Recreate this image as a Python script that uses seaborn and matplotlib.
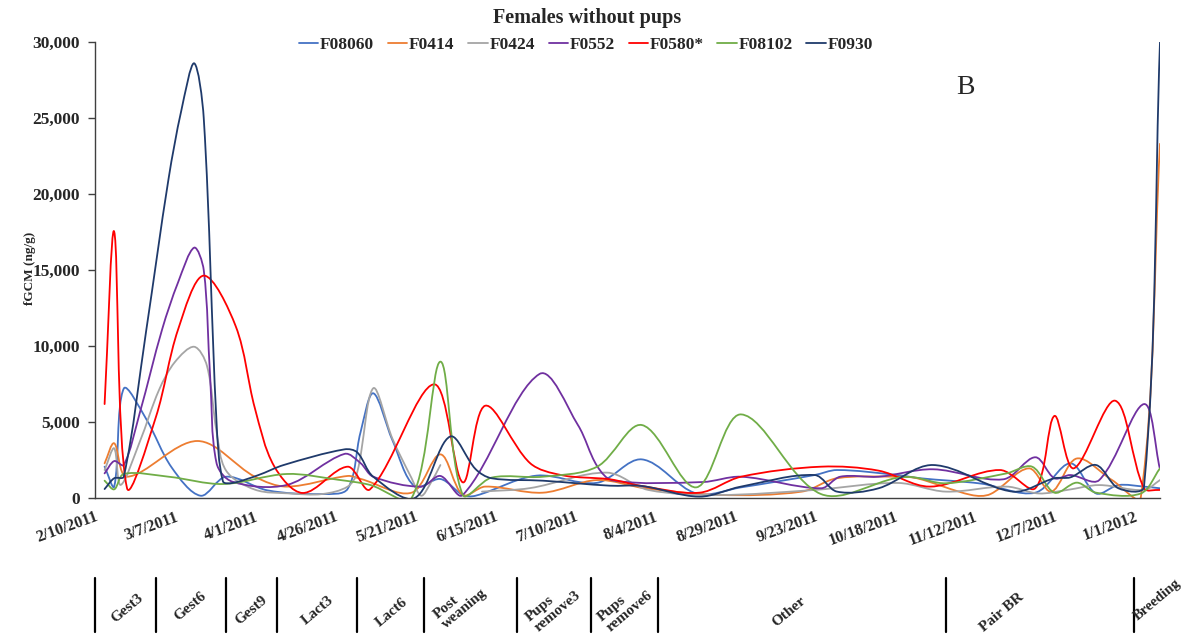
import numpy as np
import pandas as pd
import matplotlib
matplotlib.use("Agg")
import matplotlib.pyplot as plt
import matplotlib.dates as mdates
from matplotlib.path import Path
from matplotlib.patches import PathPatch
from matplotlib.lines import Line2D
from matplotlib.ticker import FixedLocator, FuncFormatter
import matplotlib.transforms as mtransforms
import seaborn as sns

# ---- data (fGCM, ng/g) ----
females = ["F08060", "F0414", "F0424", "F0552", "F0580*", "F08102", "F0930"]

f08060_dates = ["2011-02-13", "2011-02-16", "2011-02-19", "2011-02-26", "2011-03-06", "2011-03-15",
                "2011-03-23", "2011-04-05", "2011-04-22", "2011-04-30", "2011-05-04", "2011-05-08",
                "2011-05-14", "2011-05-21", "2011-05-29", "2011-06-05", "2011-06-09", "2011-06-28",
                "2011-07-17", "2011-07-31", "2011-08-17", "2011-08-31", "2011-09-23", "2011-09-30",
                "2011-10-19", "2011-10-26", "2011-11-14", "2011-12-01", "2011-12-12", "2011-12-20",
                "2011-12-27", "2012-01-04", "2012-01-09"]
f08060_vals = [2060, 750, 7200, 5200, 2000, 150, 1400, 500, 260, 600, 4300, 6890,
               3800, 750, 1250, 200, 150, 1470, 1000, 2540, 300, 700, 1510, 1840,
               1510, 1300, 950, 350, 2280, 300, 850, 750, 640]

f0414_dates = ["2011-02-13", "2011-02-16", "2011-02-20", "2011-03-14", "2011-04-01", "2011-04-11",
               "2011-04-30", "2011-05-04", "2011-05-20", "2011-05-29", "2011-06-05", "2011-06-12",
               "2011-06-30", "2011-07-17", "2011-08-01", "2011-08-24", "2011-09-19", "2011-09-30",
               "2011-10-19", "2011-10-25", "2011-11-11", "2011-11-17", "2011-11-29", "2011-12-06",
               "2011-12-14", "2011-12-25", "2012-01-03", "2012-01-09"]
f0414_vals = [2280, 3600, 1400, 3750, 1400, 750, 1450, 1260, 350, 2870, 200, 750,
              350, 1180, 640, 200, 420, 1300, 1400, 1300, 200, 260, 1950, 420,
              2600, 1180, 50, 23300]

f0424_dates = ["2011-02-13", "2011-02-16", "2011-02-18", "2011-02-24", "2011-03-02", "2011-03-07",
               "2011-03-13", "2011-03-17", "2011-03-20", "2011-03-23", "2011-04-01", "2011-04-12",
               "2011-04-22", "2011-04-30", "2011-05-03", "2011-05-08", "2011-05-14", "2011-05-20",
               "2011-05-23", "2011-05-26", "2011-05-29", "2011-06-05", "2011-06-11", "2011-06-26",
               "2011-07-20", "2011-08-02", "2011-08-24", "2011-09-23", "2011-10-19", "2011-11-03",
               "2011-11-22", "2011-12-02", "2011-12-11", "2011-12-21", "2012-01-04", "2012-01-09"]
f0424_vals = [1840, 3270, 860, 3700, 7100, 8950, 9950, 8700, 4400, 1800, 550, 300,
              260, 750, 1700, 7220, 3900, 1300, 150, 1000, 2170, np.nan, 420, 650,
              1670, 530, 200, 530, 990, 420, 750, 300, 530, 850, 530, 1180]

f0552_dates = ["2011-02-13", "2011-02-16", "2011-02-19", "2011-02-24", "2011-03-03", "2011-03-08",
               "2011-03-13", "2011-03-16", "2011-03-18", "2011-03-20", "2011-03-25", "2011-04-11",
               "2011-04-29", "2011-05-04", "2011-05-08", "2011-05-23", "2011-05-29", "2011-06-05",
               "2011-06-29", "2011-07-11", "2011-07-17", "2011-07-22", "2011-08-19", "2011-08-31",
               "2011-09-25", "2011-10-01", "2011-10-13", "2011-10-30", "2011-11-21", "2011-12-01",
               "2011-12-07", "2011-12-12", "2011-12-21", "2012-01-04", "2012-01-09"]
f0552_vals = [1620, 2430, 2170, 5600, 11100, 14200, 16470, 15000, 8000, 2300, 1070, 860,
              2900, 2300, 1400, 750, 1450, 200, 8160, 4800, 2100, 1150, 1050, 1400,
              640, 1400, 1400, 1890, 1230, 2680, 1300, 1510, 1180, 6180, 1890]

f0580_dates = ["2011-02-13", "2011-02-16", "2011-02-20", "2011-03-01", "2011-03-08", "2011-03-16",
               "2011-03-26", "2011-04-01", "2011-04-07", "2011-04-16", "2011-04-30", "2011-05-07",
               "2011-05-27", "2011-06-05", "2011-06-12", "2011-06-26", "2011-07-06", "2011-07-21",
               "2011-07-31", "2011-08-18", "2011-08-31", "2011-09-25", "2011-10-13", "2011-10-29",
               "2011-11-20", "2011-12-01", "2011-12-07", "2011-12-13", "2011-12-26", "2012-01-04",
               "2012-01-09"]
f0580_vals = [6180, 17520, 660, 5300, 11100, 14630, 11300, 5900, 2100, 330, 2060, 570,
              7480, 1030, 6070, 2300, 1500, 1230, 790, 350, 1400, 2060, 1800, 750,
              1840, 640, 5400, 1950, 6400, 640, 530]

f08102_dates = ["2011-02-13", "2011-02-16", "2011-02-19", "2011-03-05", "2011-03-22", "2011-04-11",
                "2011-04-27", "2011-05-07", "2011-05-20", "2011-05-29", "2011-06-05", "2011-06-14",
                "2011-06-30", "2011-07-17", "2011-07-31", "2011-08-17", "2011-08-31", "2011-09-25",
                "2011-10-19", "2011-10-24", "2011-11-03", "2011-11-22", "2011-11-30", "2011-12-07",
                "2011-12-14", "2011-12-20", "2012-01-03", "2012-01-09"]
f08102_vals = [1140, 570, 1580, 1400, 920, 1580, 1200, 860, 0, 8970, 200, 1340,
               1400, 2060, 4800, 700, 5500, 260, 1340, 1360, 970, 1620, 2060, 350,
               1010, 350, 300, 1950]

f0930_dates = ["2011-02-13", "2011-02-16", "2011-02-19", "2011-02-26", "2011-03-05", "2011-03-09",
               "2011-03-13", "2011-03-16", "2011-03-20", "2011-03-22", "2011-03-25", "2011-04-02",
               "2011-04-10", "2011-04-29", "2011-05-03", "2011-05-08", "2011-05-21", "2011-06-01",
               "2011-06-09", "2011-06-14", "2011-06-30", "2011-07-21", "2011-07-31", "2011-08-18",
               "2011-08-31", "2011-09-23", "2011-09-30", "2011-10-13", "2011-10-30", "2011-11-24",
               "2011-12-07", "2011-12-12", "2011-12-20", "2011-12-27", "2012-01-04", "2012-01-09"]
f0930_vals = [590, 1300, 1400, 11000, 21000, 25500, 28600, 25000, 5000, 1100, 990, 1500,
              2170, 3200, 3000, 1400, 0, 4040, 1900, 1300, 1140, 810, 790, 90,
              750, 1510, 420, 640, 2170, 420, 1300, 1360, 2170, 640, 750, 30000]

# study phases drawn under the date axis
phase_bounds = ["2011-02-10", "2011-03-01", "2011-03-23", "2011-04-08", "2011-05-03", "2011-05-24",
                "2011-06-22", "2011-07-15", "2011-08-05", "2011-11-03", "2012-01-01"]
phase_labels = ["Gest3", "Gest6", "Gest9", "Lact3", "Lact6", "Post\nweaning",
                "Pups\nremove3", "Pups\nremove6", "Other", "Pair BR", "Breeding"]

series_dates = [f08060_dates, f0414_dates, f0424_dates, f0552_dates,
                f0580_dates, f08102_dates, f0930_dates]
series_vals = [f08060_vals, f0414_vals, f0424_vals, f0552_vals,
               f0580_vals, f08102_vals, f0930_vals]

colors = sns.color_palette(["#4472C4", "#ED7D31", "#A5A5A5", "#7030A0",
                            "#FF0000", "#70AD47", "#1F3A6B"])


def excel_smooth_path(ax, x, y):
    """Bezier path like Excel's 'smoothed line' (built in screen space)."""
    xy = np.column_stack([x, y]).astype(float)
    ok = np.isfinite(xy).all(axis=1)
    verts, codes = [], []
    runs, cur = [], []
    for i in range(len(xy)):
        if ok[i]:
            cur.append(i)
        else:
            if cur:
                runs.append(cur)
            cur = []
    if cur:
        runs.append(cur)

    for run in runs:
        p = ax.transData.transform(xy[run])
        n = len(p)
        if n < 2:
            continue
        for i in range(n - 1):
            p0 = p[i - 1] if i > 0 else p[i]
            p1, p2 = p[i], p[i + 1]
            p3 = p[i + 2] if i + 2 < n else p[i + 1]
            d01 = np.hypot(*(p1 - p0))
            d12 = np.hypot(*(p2 - p1))
            d23 = np.hypot(*(p3 - p2))
            w1 = d12 / (d01 + d12) if d01 + d12 > 0 else 0
            w2 = d12 / (d12 + d23) if d12 + d23 > 0 else 0
            c1 = p1 + (p2 - p0) * w1 / 3.0
            c2 = p2 - (p3 - p1) * w2 / 3.0
            if i == 0:
                verts.append(p1)
                codes.append(Path.MOVETO)
            verts.extend([c1, c2, p2])
            codes.extend([Path.CURVE4] * 3)
    verts = ax.transData.inverted().transform(np.array(verts))
    return Path(verts, codes)


W, H = 1186, 637
sns.set_theme(style="white")
plt.rcParams["font.family"] = ["Liberation Serif", "DejaVu Serif"]
plt.rcParams["font.weight"] = "bold"

fig = plt.figure(figsize=(W / 100, H / 100), dpi=100)
ax = fig.add_axes([95 / W, 1 - 498 / H, (1160 - 95) / W, (498 - 42) / H])

x_start = mdates.date2num(pd.Timestamp("2011-02-10"))
x_end = mdates.date2num(pd.Timestamp("2012-01-09"))
ax.set_xlim(x_start, x_end)
ax.set_ylim(0, 30000)

for name, dts, vals, col in zip(females, series_dates, series_vals, colors):
    xs = mdates.date2num(pd.to_datetime(dts))
    path = excel_smooth_path(ax, xs, np.asarray(vals, dtype=float))
    ax.add_patch(PathPatch(path, facecolor="none", edgecolor=col, lw=1.3,
                           capstyle="round", joinstyle="round"))

# axes styling
sns.despine(ax=ax, top=True, right=True)
for side in ["left", "bottom"]:
    ax.spines[side].set_color("#404040")
    ax.spines[side].set_linewidth(1.0)

major = mdates.date2num(pd.date_range("2011-02-10", "2012-01-09", freq="25D"))
minor = mdates.date2num(pd.date_range("2011-02-10", "2012-01-09", freq="5D"))
ax.xaxis.set_major_locator(FixedLocator(major))
ax.xaxis.set_minor_locator(FixedLocator(minor))


def date_label(v, pos):
    d = mdates.num2date(v)
    return f"{d.month}/{d.day}/{d.year}"


ax.xaxis.set_major_formatter(FuncFormatter(date_label))
ax.set_yticks(np.arange(0, 30001, 5000))
ax.yaxis.set_major_formatter(FuncFormatter(lambda v, p: f"{v:,.0f}"))

ax.tick_params(axis="x", which="major", direction="inout", length=8, width=1,
               color="#404040", labelsize=11.5, pad=4)
ax.tick_params(axis="x", which="minor", direction="out", length=4, width=1, color="#404040")
ax.tick_params(axis="y", which="major", direction="out", length=5, width=1,
               color="#404040", labelsize=12.5, pad=6, left=True)
for lab in ax.get_xticklabels():
    lab.set_rotation(20)
    lab.set_ha("right")
    lab.set_rotation_mode("anchor")
    lab.set_fontweight("bold")
for lab in ax.get_yticklabels():
    lab.set_fontweight("bold")

# title, axis label, panel letter
fig.text(587 / W, 1 - 18 / H, "Females without pups", ha="center", va="center",
         fontsize=14.5, fontweight="bold")
fig.text(30 / W, 1 - 268 / H, "fGCM (ng/g)", ha="center", va="center",
         rotation=90, fontsize=9.5, fontweight="bold")
fig.text(965 / W, 1 - 88 / H, "B", ha="center", va="center", fontsize=20,
         fontweight="normal")

handles = [Line2D([0], [0], color=c, lw=1.3) for c in colors]
fig.legend(handles, females, loc="center", bbox_to_anchor=(586 / W, 1 - 45 / H),
           ncol=7, frameon=False, handlelength=1.1, handletextpad=0.1,
           columnspacing=0.8, prop={"weight": "bold", "size": 12.5})

# phase separators and labels below the axis
trans = mtransforms.blended_transform_factory(ax.transData, fig.transFigure)
for b in phase_bounds:
    bx = mdates.date2num(pd.Timestamp(b))
    ax.plot([bx, bx], [1 - 578 / H, 1 - 632 / H], transform=trans, color="black",
            lw=1.6, clip_on=False)

label_px = [(127, 608), (190, 606), (251, 610), (318, 610), (392, 612), (460, 604),
            (553, 606), (625, 606), (789, 612), (1002, 612), (1157, 600)]
for text, (px, py) in zip(phase_labels, label_px):
    size = 10.5 if text == "Breeding" else 11
    fig.text(px / W, 1 - py / H, text, ha="center", va="center", rotation=40,
             fontsize=size, fontweight="bold", multialignment="left", linespacing=1.0)

fig.savefig("out.png", dpi=100)
